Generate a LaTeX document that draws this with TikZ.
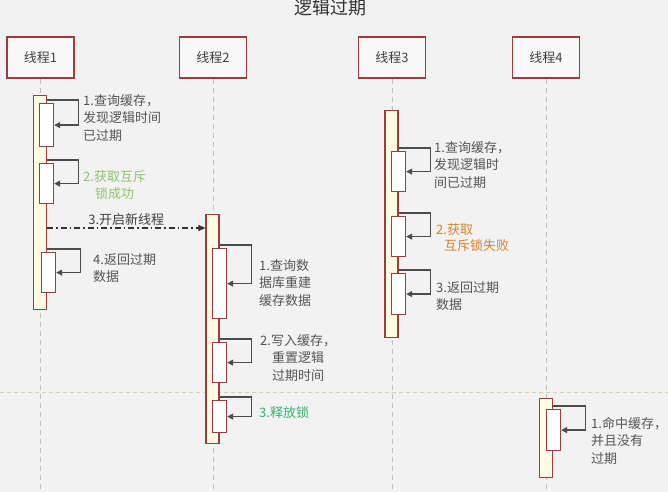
\documentclass[tikz,border=0pt]{standalone}
\usepackage{fontspec}
\setmainfont{Noto Sans CJK SC}
\usetikzlibrary{arrows.meta}
\definecolor{bg}{HTML}{F2F2F2}
\definecolor{boxred}{HTML}{9E3B3B}
\definecolor{barfill}{HTML}{FFFBE3}
\definecolor{txtgrey}{HTML}{555555}
\definecolor{okgreen}{HTML}{8CC46A}
\definecolor{relgreen}{HTML}{35B36E}
\definecolor{failorange}{HTML}{D9822B}
\definecolor{sepline}{HTML}{D6D2A6}

\begin{document}
\begin{tikzpicture}[x=1pt,y=-1pt,
    thread/.style={draw=boxred,line width=1.2pt,fill=bg!50!white,minimum width=67pt,minimum height=41pt,
        inner sep=0pt,text=black!75,font=\fontsize{13}{16}\selectfont},
    lifeline/.style={draw=black!25,line width=1pt,dash pattern=on 5pt off 4pt},
    actbar/.style={draw=boxred,line width=1.2pt,fill=barfill,minimum width=13pt,anchor=north,inner sep=0pt},
    callbox/.style={draw=boxred,line width=1.2pt,fill=white,minimum width=14pt,anchor=north west,inner sep=0pt},
    selfcall/.style={draw=black!70,line width=1.3pt,-{Triangle[length=6pt,width=6pt]}},
    spawn/.style={draw=black!80,line width=1.1pt,dash pattern=on 6pt off 3pt on 1.5pt off 3pt,
        -{Triangle[length=7pt,width=6pt]}},
    note/.style={anchor=north west,inner sep=0pt,align=left,text=txtgrey,font=\fontsize{13}{17.5}\selectfont}]

    \fill[bg] (0,0) rectangle (668,492);
    \useasboundingbox (0,0) rectangle (668,492);
    \clip (0,0) rectangle (668,492);

    \node[font=\fontsize{18}{20}\selectfont,text=black!80] (title) at (330,8) {逻辑过期};

    \foreach \n/\x in {1/40.5,2/213,3/392,4/546}
        \node[thread] (t\n) at (\x,57.5) {线程\n};
    \foreach \n in {1,...,4}
        \draw[lifeline] (t\n.south) -- (t\n.south |- 0,492);

    \draw[sepline,line width=1pt,dash pattern=on 4pt off 3pt] (0,392) -- (668,392);

    \node[actbar,minimum height=214pt] (o1) at (40,95) {};
    \node[actbar,minimum height=229pt] (o2) at (212.5,214) {};
    \node[actbar,minimum height=227pt] (o3) at (391.5,110) {};
    \node[actbar,minimum height=79pt] (o4) at (546,398) {};

    \node[callbox,minimum height=43pt] (c11) at (39,103) {};
    \node[callbox,minimum height=40pt] (c12) at (39,163) {};
    \node[callbox,minimum height=40pt] (c14) at (41,252) {};
    \node[callbox,minimum height=70pt] (c21) at (212,248) {};
    \node[callbox,minimum height=40pt] (c22) at (212,342) {};
    \node[callbox,minimum height=32pt] (c23) at (212,400) {};
    \node[callbox,minimum height=40pt] (c31) at (391,151) {};
    \node[callbox,minimum height=40pt] (c32) at (391,216) {};
    \node[callbox,minimum height=41pt] (c33) at (391,273) {};
    \node[callbox,minimum height=41pt] (c41) at (546,409) {};

    \foreach \o/\c in {o1/c11,o1/c12,o1/c14,o2/c21,o2/c22,o2/c23,o3/c31,o3/c32,o3/c33,o4/c41}{
        \coordinate (from) at (\o.east |- \c.north);
        \draw[selfcall] ([yshift=3pt]from) -| ([xshift=24pt]\c.east) -- (\c.east);
    }

    \coordinate (spawnend) at ([yshift=-14pt]o2.north west);
    \draw[spawn] (o1.east |- spawnend) -- node[above=1.5pt,inner sep=0pt,text=black!75,
        font=\fontsize{13}{16}\selectfont] (n13) {3.开启新线程} (spawnend);

    \node[note] (n11) at (83,94) {1.查询缓存，\\发现逻辑时间\\已过期};
    \node[note,align=center,text=okgreen] (n12) at (83,170) {2.获取互斥\\锁成功};
    \node[note] (n14) at (93,253) {4.返回过期\\数据};
    \node[note] (n21) at (259,259) {1.查询数\\据库重建\\缓存数据};
    \node[note,align=center] (n22) at (260,334) {2.写入缓存，\\重置逻辑\\过期时间};
    \node[note,text=relgreen] (n23) at (259,406) {3.释放锁};
    \node[note] (n31) at (434,141) {1.查询缓存，\\发现逻辑时\\间已过期};
    \node[note,text=failorange,font=\fontsize{13}{16}\selectfont] (n32) at (436,223) {2.获取\\\hspace*{8pt}互斥锁失败};
    \node[note] (n33) at (436,281) {3.返回过期\\数据};
    \node[note] (n41) at (591,417) {1.命中缓存，\\并且没有\\过期};
\end{tikzpicture}
\end{document}
